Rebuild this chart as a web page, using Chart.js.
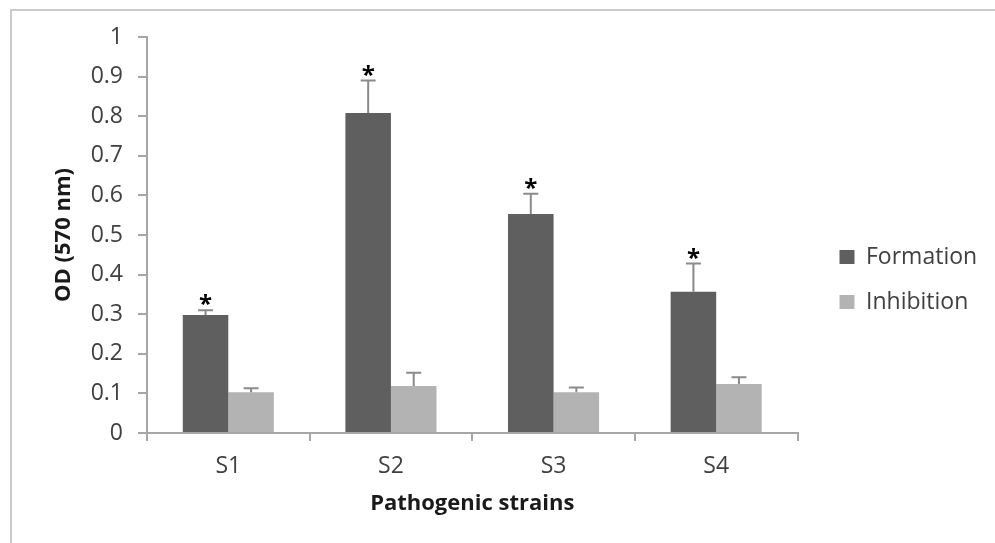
<!DOCTYPE html>
<html>
<head>
<meta charset="utf-8">
<script src="https://cdn.jsdelivr.net/npm/chart.js@4"></script>
<style>
    html, body { margin: 0; padding: 0; background: #fff; }
    #wrap { position: relative; width: 995px; height: 543px; overflow: hidden; }
    #frame { position: absolute; left: 10px; top: 9px; width: 1000px; height: 600px; border: 2px solid #cacaca; }
    #chart { position: absolute; left: 0; top: 0; }
</style>
</head>
<body>
<div id="wrap">
    <div id="frame"></div>
    <canvas id="chart" width="995" height="543"></canvas>
</div>
<script>
const strains = ['S1', 'S2', 'S3', 'S4'];
const formation = [0.298, 0.808, 0.553, 0.357];
const formationErr = [0.012, 0.082, 0.051, 0.071];
const inhibition = [0.103, 0.119, 0.103, 0.124];
const inhibitionErr = [0.010, 0.033, 0.012, 0.017];
const significant = [true, true, true, true];

const errors = [formationErr, inhibitionErr];
const textFont = 'Open Sans';

// upward error bars and the significance stars
const errorBars = {
    id: 'errorBars',
    afterDatasetsDraw(chart) {
        const { ctx } = chart;
        const y = chart.scales.y;
        ctx.save();
        chart.data.datasets.forEach((ds, i) => {
            const meta = chart.getDatasetMeta(i);
            meta.data.forEach((bar, j) => {
                const top = y.getPixelForValue(ds.data[j] + errors[i][j]);
                ctx.strokeStyle = '#8a8a8a';
                ctx.lineWidth = 2;
                ctx.beginPath();
                ctx.moveTo(bar.x, bar.y);
                ctx.lineTo(bar.x, top);
                ctx.moveTo(bar.x - 7.5, top);
                ctx.lineTo(bar.x + 7.5, top);
                ctx.stroke();
                if (i === 0 && significant[j]) {
                    ctx.fillStyle = '#000';
                    ctx.font = 'bold 24px ' + textFont;
                    ctx.textAlign = 'center';
                    ctx.textBaseline = 'alphabetic';
                    ctx.fillText('*', bar.x, top - 11 + 13);
                }
            });
        });
        ctx.restore();
    }
};

new Chart(document.getElementById('chart'), {
    type: 'bar',
    data: {
        labels: strains,
        datasets: [{
            label: 'Formation',
            data: formation,
            backgroundColor: '#5f5f5f'
        }, {
            label: 'Inhibition',
            data: inhibition,
            backgroundColor: '#b3b3b3'
        }]
    },
    options: {
        responsive: false,
        animation: false,
        categoryPercentage: 0.56,
        barPercentage: 1.0,
        layout: {
            padding: { top: 37, bottom: 21, left: 0, right: 14 }
        },
        plugins: {
            legend: {
                position: 'right',
                labels: {
                    boxWidth: 15,
                    boxHeight: 14,
                    padding: 22,
                    color: '#404040',
                    font: { family: textFont, size: 23 }
                },
                onClick: (e) => e.stopPropagation()
            },
            tooltip: { enabled: false }
        },
        scales: {
            x: {
                grid: {
                    offset: true,
                    drawOnChartArea: false,
                    tickLength: 8,
                    color: '#a6a6a6',
                    lineWidth: 2
                },
                border: { color: '#a6a6a6', width: 2 },
                ticks: {
                    padding: 12,
                    color: '#404040',
                    font: { family: textFont, size: 23 }
                },
                title: {
                    display: true,
                    text: 'Pathogenic strains',
                    color: '#1a1a1a',
                    padding: { top: 0, bottom: 5 },
                    font: { family: textFont, size: 22, weight: 'bold' }
                },
                afterFit: (scale) => { scale.height = 89; }
            },
            y: {
                min: 0,
                max: 1,
                grid: {
                    drawOnChartArea: false,
                    tickLength: 9,
                    color: '#a6a6a6',
                    lineWidth: 2
                },
                border: { color: '#a6a6a6', width: 2 },
                ticks: {
                    stepSize: 0.1,
                    padding: 15,
                    color: '#404040',
                    font: { family: textFont, size: 23 },
                    callback: (v) => String(Number(v.toFixed(1)))
                },
                title: {
                    display: true,
                    text: 'OD (570 nm)',
                    color: '#1a1a1a',
                    padding: { top: 51, bottom: 0 },
                    font: { family: textFont, size: 22, weight: 'bold' }
                },
                afterFit: (scale) => { scale.width = 147; }
            },
            spacer: {
                position: 'right',
                display: true,
                grid: { display: false },
                border: { display: false },
                ticks: { display: false },
                afterFit: (scale) => { scale.width = 20; }
            }
        }
    },
    plugins: [errorBars]
});
</script>
</body>
</html>
